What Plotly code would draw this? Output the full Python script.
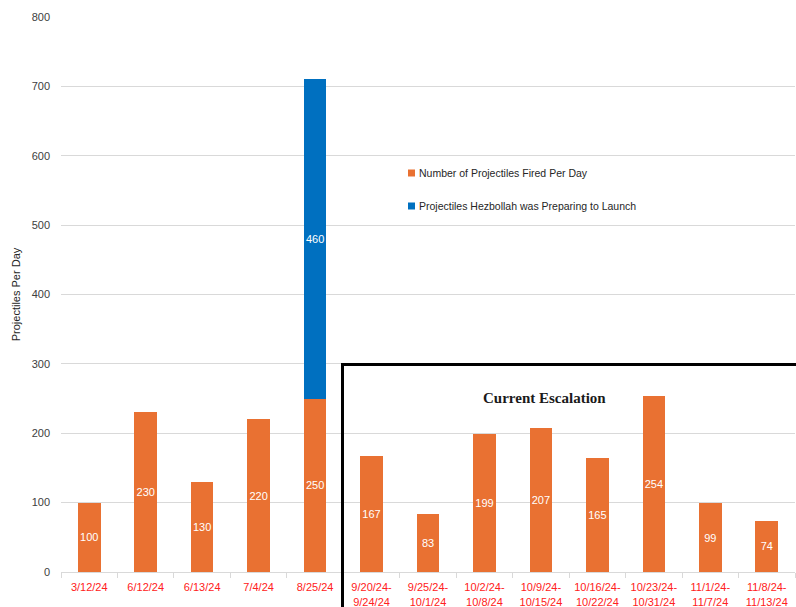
import plotly.graph_objects as go

categories = ["3/12/24", "6/12/24", "6/13/24", "7/4/24", "8/25/24",
              "9/20/24-<br>9/24/24", "9/25/24-<br>10/1/24", "10/2/24-<br>10/8/24",
              "10/9/24-<br>10/15/24", "10/16/24-<br>10/22/24", "10/23/24-<br>10/31/24",
              "11/1/24-<br>11/7/24", "11/8/24-<br>11/13/24"]
fired = [100, 230, 130, 220, 250, 167, 83, 199, 207, 165, 254, 99, 74]
preparing = [None, None, None, None, 460, None, None, None, None, None, None, None, None]
series_names = ["Number of Projectiles Fired Per Day", "Projectiles Hezbollah was Preparing to Launch"]
y_ticks = [0, 100, 200, 300, 400, 500, 600, 700, 800]

ORANGE = "#E97132"
BLUE = "#0070C0"
FONT = "Liberation Sans"

W, H = 796, 607

fig = go.Figure()
fig.add_trace(go.Bar(
    x=categories, y=fired, name=series_names[0],
    marker=dict(color=ORANGE, line=dict(width=0)),
    text=[str(v) for v in fired], textposition="inside", insidetextanchor="middle",
    textangle=0, constraintext="none",
    textfont=dict(color="white", size=11, family=FONT),
))
fig.add_trace(go.Bar(
    x=categories, y=preparing, name=series_names[1],
    marker=dict(color=BLUE, line=dict(width=0)),
    text=[("" if v is None else str(v)) for v in preparing], textposition="inside",
    insidetextanchor="middle", textangle=0, constraintext="none",
    textfont=dict(color="white", size=11, family=FONT),
))

L, R, T, B = 61, 1, 17, 35
fig.update_layout(
    width=W, height=H,
    margin=dict(l=L, r=R, t=T, b=B, autoexpand=False),
    paper_bgcolor="white", plot_bgcolor="white",
    barmode="stack", bargap=0.6,
    font=dict(family=FONT, size=11, color="#404040"),
    showlegend=False,
    uniformtext=dict(minsize=11, mode="show"),
    xaxis=dict(
        tickfont=dict(color="#FF2020", size=11, family=FONT),
        showgrid=False, showline=True, linecolor="#D9D9D9", linewidth=1,
        ticks="outside", tickson="boundaries", ticklen=5, tickcolor="#D9D9D9",
        ticklabelstandoff=5,
        automargin=False,
    ),
    yaxis=dict(
        range=[0, 800], tickvals=y_ticks, showgrid=True, gridcolor="#D9D9D9",
        gridwidth=1, zeroline=False, showline=False, ticks="",
        tickfont=dict(color="#404040", size=11, family=FONT), ticklabelstandoff=10,
        title=dict(text="Projectiles Per Day", font=dict(size=11, color="#262626", family=FONT),
                   standoff=8),
        automargin=False,
    ),
)

pw = W - L - R
ph = H - T - B


def px_x(xp):
    return (xp - L) / pw


def px_y(yp):
    return (H - B - yp) / ph


# manual legend (small square markers as in the reference)
for name, color, yc in [(series_names[0], ORANGE, 173), (series_names[1], BLUE, 206)]:
    fig.add_shape(type="rect", xref="paper", yref="paper",
                  x0=px_x(408), x1=px_x(415), y0=px_y(yc + 3.5), y1=px_y(yc - 3.5),
                  line=dict(width=0), fillcolor=color)
    fig.add_annotation(xref="paper", yref="paper", x=px_x(416.5), y=px_y(yc),
                       xanchor="left", yanchor="middle", text=name, showarrow=False,
                       font=dict(size=10.5, color="#262626", family=FONT))

# Current escalation box
fig.add_shape(type="rect", xref="paper", yref="paper",
              x0=px_x(342.5), x1=1.05, y0=-0.2, y1=px_y(364.5),
              line=dict(color="black", width=3), fillcolor="rgba(0,0,0,0)", layer="above")
fig.add_annotation(xref="paper", yref="paper", x=px_x(544), y=px_y(408),
                   text="<b>Current Escalation</b>", showarrow=False,
                   font=dict(family="Liberation Serif", size=15, color="#1a1a1a"))

fig.write_html("out.html", config={"displayModeBar": False},
               post_script="document.body.style.margin='0';document.body.style.overflow='hidden';")
